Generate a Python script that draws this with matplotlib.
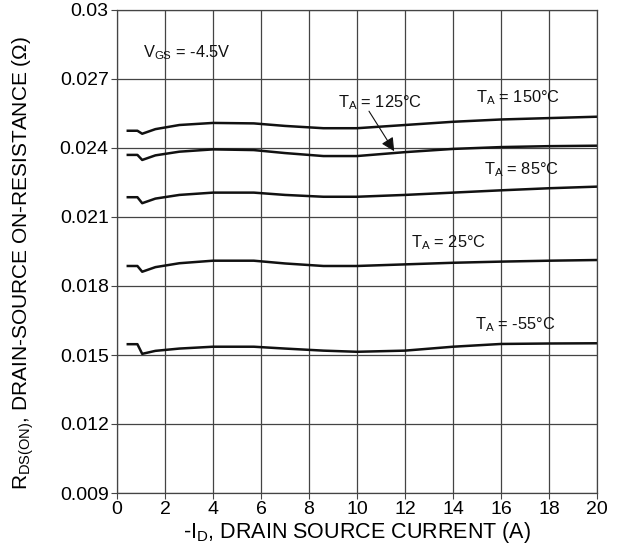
import matplotlib
matplotlib.use("Agg")
import matplotlib.pyplot as plt
import numpy as np

plt.rcParams['font.family'] = ['Liberation Sans', 'DejaVu Sans']
plt.rcParams['mathtext.default'] = 'regular'

# drain current (A)
current = [0.45, 0.85, 1.05, 1.6, 2.6, 4.0, 5.7, 7.0, 8.6, 10.0, 12.0, 14.0, 16.0, 18.0, 20.0]

# on-resistance (ohm) for each ambient temperature
r_150 = [0.02475, 0.02475, 0.02462, 0.02482, 0.02500, 0.02509, 0.02507, 0.02496, 0.02486, 0.02486,
         0.02500, 0.02514, 0.02524, 0.02530, 0.02536]
r_125 = [0.02370, 0.02370, 0.02348, 0.02368, 0.02384, 0.02394, 0.02391, 0.02378, 0.02365, 0.02365,
         0.02382, 0.02396, 0.02404, 0.02408, 0.02410]
r_85 = [0.02186, 0.02186, 0.02160, 0.02180, 0.02196, 0.02206, 0.02206, 0.02196, 0.02188, 0.02188,
        0.02196, 0.02206, 0.02216, 0.02225, 0.02232]
r_25 = [0.01887, 0.01887, 0.01862, 0.01882, 0.01899, 0.01910, 0.01910, 0.01898, 0.01887, 0.01887,
        0.01894, 0.01901, 0.01906, 0.01910, 0.01913]
r_m55 = [0.01547, 0.01547, 0.01505, 0.01518, 0.01528, 0.01536, 0.01536, 0.01528, 0.01519, 0.01514,
         0.01519, 0.01536, 0.01548, 0.01550, 0.01551]

series = [r_150, r_125, r_85, r_25, r_m55]

xticks = np.arange(0, 21, 2)
yticks = [0.009, 0.012, 0.015, 0.018, 0.021, 0.024, 0.027, 0.03]
ytick_labels = ["0.009", "0.012", "0.015", "0.018", "0.021", "0.024", "0.027", "0.03"]

fig = plt.figure(figsize=(6.26, 5.5), dpi=100)
ax = fig.add_axes([117 / 626, 57 / 550, 480 / 626, 483 / 550])

for r in series:
    ax.plot(current, r, color='#111111', lw=1.8, solid_joinstyle='round')

ax.set_xlim(0, 20)
ax.set_ylim(0.009, 0.03)
ax.set_xticks(xticks)
ax.set_yticks(yticks)
ax.set_yticklabels(ytick_labels)
ax.grid(True, color='#444444', lw=0.9)
ax.tick_params(axis='both', labelsize=14, color='#444444', length=4, direction='out', pad=2)
for s in ax.spines.values():
    s.set_color('#444444')
    s.set_linewidth(0.9)

ax.set_xlabel("-I$_{D}$, DRAIN SOURCE CURRENT (A)", fontsize=15.5, labelpad=1)
ax.set_ylabel("R$_{DS(ON)}$, DRAIN-SOURCE ON-RESISTANCE (Ω)", fontsize=15)
ax.yaxis.set_label_coords(-0.169, 0.476)

ann = dict(fontsize=11.8, color='#111111', ha='center', va='center')
ax.text(1.08, 0.02813, "V$_{GS}$ = -4.5V", fontsize=11.8, color='#111111', ha='left', va='center')
ax.text(16.7, 0.02617, "T$_{A}$ = 150°C", **ann)
ax.text(16.86, 0.02304, "T$_{A}$ = 85°C", **ann)
ax.text(13.8, 0.01987, "T$_{A}$ = 25°C", **ann)
ax.text(16.6, 0.0163, "T$_{A}$ = -55°C", **ann)
ax.text(10.96, 0.02596, "T$_{A}$ = 125°C", **ann)
ax.annotate("", xy=(11.55, 0.02386), xytext=(10.5, 0.02560),
            arrowprops=dict(arrowstyle='-|>', color='#111111', lw=0.8,
                            mutation_scale=20, shrinkA=0, shrinkB=0))

fig.savefig("out.png", dpi=100)
